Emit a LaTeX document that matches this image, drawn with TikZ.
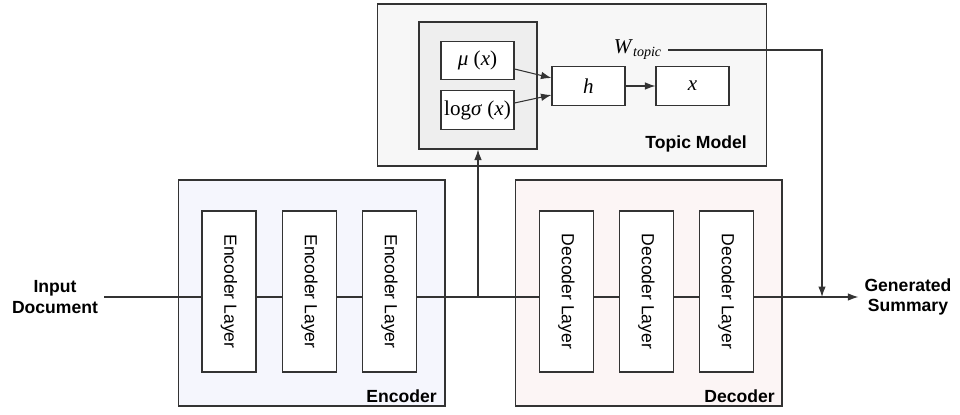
\documentclass[tikz,border=0pt]{standalone}
\usepackage{fontspec}
\setmainfont{Liberation Serif}
\setsansfont{Liberation Sans}
\usepackage{graphicx}
\usetikzlibrary{arrows.meta,positioning}

\definecolor{linegray}{HTML}{333333}
\definecolor{topicfill}{HTML}{F7F7F7}
\definecolor{vaefill}{HTML}{EEEEEE}
\definecolor{encfill}{HTML}{F5F6FD}
\definecolor{decfill}{HTML}{FCF5F5}

\tikzstyle{frame} = [rectangle, draw=linegray, line width=0.6pt, inner sep=0pt]
\tikzstyle{block} = [rectangle, draw=linegray, line width=0.6pt, fill=white, inner sep=0pt]
\tikzstyle{layerbox} = [block, minimum width=1.08cm, minimum height=3.22cm, font=\sffamily\fontsize{10}{12}\selectfont]
\tikzstyle{var} = [block, minimum width=1.46cm, minimum height=0.77cm, font=\fontsize{12}{14}\selectfont]
\tikzstyle{heading} = [font=\sffamily\bfseries\fontsize{10}{11.5}\selectfont, align=center]
\tikzstyle{title} = [heading, inner sep=0pt, anchor=base east]
\tikzstyle{wire} = [draw=linegray, line width=0.6pt]
\tikzstyle{flow} = [wire, -{Latex[length=2.1mm,width=1.5mm]}]

\begin{document}
\begin{tikzpicture}[x=0.02cm, y=-0.02cm]
        \useasboundingbox (0,0) rectangle (960,415);
        % Containers
        \node (topic) at (572,85) [frame, fill=topicfill, minimum width=7.8cm, minimum height=3.24cm] {};
        \node (vae) at (478,85.5) [frame, fill=vaefill, minimum width=2.36cm, minimum height=2.54cm] {};
        \node (enc) at (311.5,293) [frame, fill=encfill, minimum width=5.34cm, minimum height=4.52cm] {};
        \node (dec) at (648.5,293) [frame, fill=decfill, minimum width=5.34cm, minimum height=4.52cm] {};
        \node (topictitle) at (747,149) [title] {Topic Model};
        \node (enctitle) at (437,402) [title] {Encoder};
        \node (dectitle) at (775,402) [title] {Decoder};

        % Input and output
        \node (in) at (55,297) [heading] {Input\\Document};
        \node (out) at (908,297) [heading] {Generated\\Summary};
        \coordinate (split) at (vae.south |- in);
        \draw[flow] (in) -- (out);

        % Encoder and decoder layers
        \foreach \i/\x in {1/229, 2/309.5, 3/389.5}
            \node (e\i) at (\x,291.5) [layerbox] {\rotatebox{-90}{Encoder Layer}};
        \foreach \i/\x in {1/566.5, 2/646.5, 3/726.5}
            \node (d\i) at (\x,291.5) [layerbox] {\rotatebox{-90}{Decoder Layer}};

        % Topic model
        \node (mu) at (477.5,60.5) [var] {\textit{μ} (\textit{x})};
        \node (logsig) at (477.5,110) [var] {log\textit{σ} (\textit{x})};
        \node (h) at (588.5,86) [var] {\textit{h}};
        \node (x) at (692.5,86) [var] {\textit{x}};
        \node (wt) at (638,50) [font=\fontsize{12}{14}\selectfont] {\textit{W}\textsubscript{\textit{topic}}};
        \coordinate (merge) at (in -| 822,0);

        \draw[flow] ([yshift=-0.17cm]mu.east) -- ([yshift=0.16cm]h.west);
        \draw[flow] ([yshift=0.14cm]logsig.east) -- ([yshift=-0.18cm]h.west);
        \draw[flow] (h) -- (x);
        \draw[flow] (split) -- (vae);
        \draw[flow] (wt) -| (merge);
    \end{tikzpicture}
\end{document}
